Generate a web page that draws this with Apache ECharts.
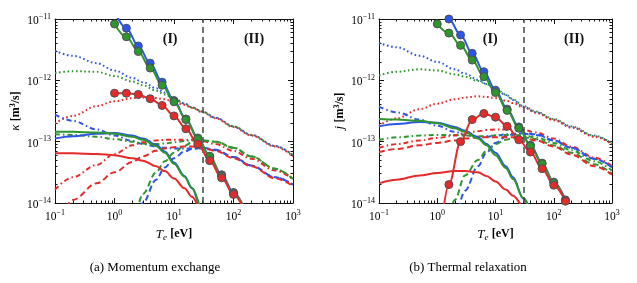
<!DOCTYPE html>
<html><head><meta charset="utf-8">
<script src="https://cdn.jsdelivr.net/npm/echarts@6/dist/echarts.min.js"></script>
<style>html,body{margin:0;padding:0;background:#fff}#c{width:637px;height:283px}</style>
</head><body><div id="c"></div>
<script>
// Temperature grid (eV) for the component curves
const T = [0.1,0.2,0.5,1,2,3,5,7,10,15,20,30,50,100,200,500,1000];
// Temperatures of the marked (total) curves
const Tm = [1,1.585,2.512,3.981,6.31,10,15.85,25.12,39.81,63.1,100,158.5];

// (a) Momentum exchange: log10(kappa [m^3/s])
const kBlueDot    = [-11.52,-11.60,-11.72,-11.84,-11.96,-12.03,-12.13,-12.20,-12.29,-12.38,-12.44,-12.51,-12.61,-12.75,-12.89,-13.07,-13.22];
const kGreenDot   = [-11.88,-11.85,-11.86,-11.93,-12.02,-12.08,-12.17,-12.23,-12.30,-12.38,-12.44,-12.51,-12.61,-12.75,-12.89,-13.07,-13.22];
const kRedDot     = [-12.70,-12.58,-12.42,-12.34,-12.29,-12.28,-12.29,-12.31,-12.35,-12.40,-12.45,-12.52,-12.62,-12.76,-12.90,-13.08,-13.24];
const kBlueSolid  = [-12.95,-12.91,-12.87,-12.86,-12.90,-12.95,-13.05,-13.16,-13.34,-13.56,-13.76,-14.15,-14.80,null,null,null,null];
const kGreenSolid = [-12.84,-12.84,-12.85,-12.87,-12.92,-12.97,-13.07,-13.18,-13.36,-13.57,-13.75,-14.10,-14.70,null,null,null,null];
const kRedSolid   = [-13.19,-13.19,-13.20,-13.22,-13.27,-13.31,-13.40,-13.48,-13.60,-13.76,-13.90,-14.15,-14.60,null,null,null,null];
const kBlueDash   = [null,null,null,null,-15.00,-14.00,-13.62,-13.42,-13.27,-13.16,-13.12,-13.10,-13.13,-13.25,-13.39,-13.58,-13.70];
const kGreenDash  = [null,null,null,null,-14.60,-13.85,-13.50,-13.32,-13.18,-13.07,-13.01,-12.98,-13.00,-13.10,-13.24,-13.44,-13.61];
const kRedDash    = [-14.50,-13.95,-13.68,-13.50,-13.33,-13.24,-13.15,-13.11,-13.09,-13.08,-13.08,-13.10,-13.15,-13.27,-13.40,-13.60,-13.72];
const kBlueDD     = [-12.56,-12.66,-12.80,-12.90,-12.99,-13.04,-13.08,-13.10,-13.11,-13.11,-13.11,-13.11,-13.14,-13.25,-13.39,-13.58,-13.70];
const kGreenDD    = [-12.88,-12.89,-12.92,-12.96,-13.00,-13.03,-13.04,-13.03,-13.01,-12.99,-12.98,-12.98,-13.00,-13.10,-13.24,-13.44,-13.61];
const kRedDD      = [-13.78,-13.58,-13.38,-13.20,-13.06,-13.01,-12.98,-12.97,-12.97,-12.97,-12.97,-12.99,-13.04,-13.15,-13.28,-13.47,-13.61];
const kBlueTot    = [-10.88,-11.15,-11.44,-11.72,-12.03,-12.33,-12.63,-12.94,-13.24,-13.54,-13.83,-14.13];
const kGreenTot   = [-11.08,-11.29,-11.53,-11.80,-12.08,-12.35,-12.64,-12.95,-13.24,-13.56,-13.84,-14.12];
const kRedTot     = [-12.21,-12.21,-12.23,-12.30,-12.41,-12.58,-12.79,-13.04,-13.31,-13.59,-13.86,-14.15];

// (b) Thermal relaxation: log10(j [m^3/s])
const jBlueDot    = [-11.39,-11.46,-11.60,-11.70,-11.82,-11.89,-11.99,-12.06,-12.14,-12.24,-12.32,-12.43,-12.52,-12.64,-12.76,-12.91,-13.03];
const jGreenDot   = [-11.92,-11.86,-11.82,-11.84,-11.90,-11.94,-12.01,-12.06,-12.13,-12.23,-12.31,-12.42,-12.51,-12.63,-12.75,-12.90,-13.03];
const jRedDot     = [-12.74,-12.62,-12.47,-12.38,-12.31,-12.28,-12.26,-12.27,-12.29,-12.33,-12.37,-12.44,-12.53,-12.65,-12.77,-12.92,-13.04];
const jBlueSolid  = [-12.75,-12.71,-12.68,-12.69,-12.76,-12.82,-12.93,-13.04,-13.18,-13.40,-13.58,-13.93,-14.50,null,null,null,null];
const jGreenSolid = [-12.63,-12.64,-12.66,-12.70,-12.78,-12.84,-12.95,-13.06,-13.22,-13.43,-13.61,-13.92,-14.45,null,null,null,null];
const jRedSolid   = [-13.68,-13.62,-13.55,-13.51,-13.48,-13.48,-13.50,-13.56,-13.65,-13.78,-13.88,-14.05,-14.40,null,null,null,null];
const jBlueDash   = [null,null,null,null,-14.40,-13.80,-13.40,-13.18,-13.02,-12.92,-12.88,-12.86,-12.88,-12.98,-13.10,-13.28,-13.42];
const jGreenDash  = [null,null,null,-16.00,-13.95,-13.55,-13.30,-13.15,-13.04,-12.97,-12.94,-12.93,-12.96,-13.06,-13.18,-13.37,-13.52];
const jRedDash    = [-13.17,-13.12,-13.06,-13.02,-12.98,-12.95,-12.93,-12.93,-12.93,-12.93,-12.93,-12.94,-12.98,-13.08,-13.21,-13.40,-13.54];
const jBlueDD     = [-12.43,-12.52,-12.64,-12.74,-12.84,-12.89,-12.92,-12.92,-12.90,-12.88,-12.87,-12.87,-12.89,-12.98,-13.10,-13.28,-13.41];
const jGreenDD    = [-12.97,-12.93,-12.90,-12.89,-12.89,-12.90,-12.91,-12.91,-12.90,-12.89,-12.89,-12.90,-12.93,-13.02,-13.14,-13.32,-13.47];
const jRedDD      = [-13.10,-13.04,-12.98,-12.94,-12.90,-12.86,-12.83,-12.81,-12.80,-12.80,-12.80,-12.81,-12.85,-12.95,-13.08,-13.26,-13.40];
const jBlueTot    = [-10.72,-11.00,-11.26,-11.56,-11.86,-12.16,-12.47,-12.76,-13.06,-13.35,-13.66,-13.95];
const jGreenTot   = [-11.08,-11.23,-11.43,-11.67,-11.94,-12.20,-12.49,-12.78,-13.07,-13.36,-13.67,-13.96];
const jRedTot     = [-15.00,-13.70,-13.00,-12.64,-12.54,-12.60,-12.75,-12.97,-13.17,-13.44,-13.71,-13.97];

// regime boundary and region labels
const boundaryT = 30;
const regionLabels = ['(I)', '(II)'];
const regionT_a = [8.6, 221];
const regionT_b = [8.1, 224];
const regionY = 4.7e-12;

// tick values
const minorX = [0.2,0.3,0.4,0.5,0.6,0.7,0.8,0.9,2,3,4,5,6,7,8,9,20,30,40,50,60,70,80,90,200,300,400,500,600,700,800,900];
const minorY = [2e-14,3e-14,4e-14,5e-14,6e-14,7e-14,8e-14,9e-14,2e-13,3e-13,4e-13,5e-13,6e-13,7e-13,8e-13,9e-13,2e-12,3e-12,4e-12,5e-12,6e-12,7e-12,8e-12,9e-12];

const captions = ['(a) Momentum exchange', '(b) Thermal relaxation'];

const SERIF = '"Liberation Serif","DejaVu Serif",serif';
const BLUE = '#2d55e6', GREEN = '#2e962e', RED = '#e62a2a';
const DOT = [1.6, 2.6], DASH = [6, 3.5], DD = [5, 3, 1.5, 3];

function fmt(v) {
  const e = Math.round(Math.log10(v));
  return '{m|10}{e|' + (e < 0 ? '\u2212' + (-e) : String(e)) + '}';
}
const RICH = {
  m: {fontSize: 11.5, fontFamily: SERIF, color: '#000', padding: [4, 0, 0, 0]},
  e: {fontSize: 8, fontFamily: SERIF, color: '#000', padding: [0, 0, 5, 0]}
};
const NAMERICH = {
  i: {fontSize: 13, fontFamily: SERIF, fontStyle: 'italic', color: '#000'},
  s: {fontSize: 9, fontFamily: SERIF, fontStyle: 'italic', color: '#000', padding: [6, 0, 0, 0]},
  b: {fontSize: 12, fontFamily: SERIF, fontWeight: 'bold', color: '#000'},
  p: {fontSize: 8, fontFamily: SERIF, fontWeight: 'bold', color: '#000', padding: [0, 0, 5, 0]}
};

function xAxes(g) {
  const base = {gridIndex: g, type: 'log', logBase: 10, min: 0.1, max: 1000, splitLine: {show: false},
    axisLine: {show: true, lineStyle: {color: '#111', width: 1}}};
  const tk = (len, cv) => ({show: true, inside: true, length: len, lineStyle: {color: '#111', width: 1}, customValues: cv});
  return [
    Object.assign({}, base, {position: 'bottom', axisTick: tk(5), axisLabel: {formatter: fmt, rich: RICH, margin: 4},
      name: '{i|T}{s|e} {b|[eV]}', nameLocation: 'middle', nameGap: 18, nameTextStyle: {rich: NAMERICH}}),
    Object.assign({}, base, {position: 'bottom', axisLine: {show: false}, axisTick: tk(2.5, minorX), axisLabel: {show: false}}),
    Object.assign({}, base, {position: 'top', axisTick: tk(5), axisLabel: {show: false}}),
    Object.assign({}, base, {position: 'top', axisLine: {show: false}, axisTick: tk(2.5, minorX), axisLabel: {show: false}})
  ];
}
function yAxes(g, sym) {
  const base = {gridIndex: g, type: 'log', logBase: 10, min: 1e-14, max: 1e-11, splitLine: {show: false},
    axisLine: {show: true, lineStyle: {color: '#111', width: 1}}};
  const tk = (len, cv) => ({show: true, inside: true, length: len, lineStyle: {color: '#111', width: 1}, customValues: cv});
  return [
    Object.assign({}, base, {position: 'left', axisTick: tk(5), axisLabel: {formatter: fmt, rich: RICH, margin: 4},
      name: '{i|' + sym + '} {b|[m}{p|3}{b|/s]}', nameLocation: 'middle', nameGap: 33, nameRotate: 90, nameTextStyle: {rich: NAMERICH}}),
    Object.assign({}, base, {position: 'left', axisLine: {show: false}, axisTick: tk(2.5, minorY), axisLabel: {show: false}}),
    Object.assign({}, base, {position: 'right', axisTick: tk(5), axisLabel: {show: false}}),
    Object.assign({}, base, {position: 'right', axisLine: {show: false}, axisTick: tk(2.5, minorY), axisLabel: {show: false}})
  ];
}

function curve(xs, logs, color, dash, ai, z) {
  const data = [];
  xs.forEach((t, i) => { if (logs[i] !== null) data.push([t, Math.pow(10, logs[i])]); });
  return {type: 'line', xAxisIndex: ai, yAxisIndex: ai, data: data, showSymbol: false, smooth: 0.35,
    smoothMonotone: 'x', clip: true, silent: true, z: z || 2,
    lineStyle: {color: color, width: 2, type: dash}};
}
function total(logs, color, ai) {
  const s = curve(Tm, logs, color, 'solid', ai, 6);
  s.showSymbol = true; s.symbol = 'circle'; s.symbolSize = 8;
  s.itemStyle = {color: color, borderColor: '#505050', borderWidth: 1};
  return s;
}
function panel(ai, set, labT) {
  const list = [
    curve(T, set.bDot, BLUE, DOT, ai), curve(T, set.gDot, GREEN, DOT, ai), curve(T, set.rDot, RED, DOT, ai),
    curve(T, set.bDD, BLUE, DD, ai, 3), curve(T, set.gDD, GREEN, DD, ai, 3), curve(T, set.rDD, RED, DD, ai, 3),
    curve(T, set.bDash, BLUE, DASH, ai, 3), curve(T, set.gDash, GREEN, DASH, ai, 3), curve(T, set.rDash, RED, DASH, ai, 3),
    curve(T, set.bSol, BLUE, 'solid', ai, 4), curve(T, set.gSol, GREEN, 'solid', ai, 4), curve(T, set.rSol, RED, 'solid', ai, 4),
    total(set.bTot, BLUE, ai), total(set.gTot, GREEN, ai), total(set.rTot, RED, ai)
  ];
  list[0].markLine = {silent: true, symbol: ['none', 'none'], label: {show: false},
    lineStyle: {color: '#444', type: [6, 4], width: 1.5}, data: [{xAxis: boundaryT}], animation: false};
  list[0].markPoint = {silent: true, symbol: 'circle', symbolSize: 1, itemStyle: {color: 'rgba(0,0,0,0)'},
    label: {show: true, position: 'inside', formatter: '{b}', fontSize: 14, fontWeight: 'bold', fontFamily: SERIF, color: '#111'},
    data: regionLabels.map((n, i) => ({name: n, coord: [labT[i], regionY]})), animation: false};
  return list;
}

const chart = echarts.init(document.getElementById('c'), null, {renderer: 'canvas'});
const series = [].concat(
  panel(0, {bDot: kBlueDot, gDot: kGreenDot, rDot: kRedDot, bSol: kBlueSolid, gSol: kGreenSolid, rSol: kRedSolid,
    bDash: kBlueDash, gDash: kGreenDash, rDash: kRedDash, bDD: kBlueDD, gDD: kGreenDD, rDD: kRedDD,
    bTot: kBlueTot, gTot: kGreenTot, rTot: kRedTot}, regionT_a),
  panel(4, {bDot: jBlueDot, gDot: jGreenDot, rDot: jRedDot, bSol: jBlueSolid, gSol: jGreenSolid, rSol: jRedSolid,
    bDash: jBlueDash, gDash: jGreenDash, rDash: jRedDash, bDD: jBlueDD, gDD: jGreenDD, rDD: jRedDD,
    bTot: jBlueTot, gTot: jGreenTot, rTot: jRedTot}, regionT_b)
);

chart.setOption({
  animation: false,
  backgroundColor: '#fff',
  grid: [
    {left: 55, top: 19, width: 238, height: 184},
    {left: 379, top: 19, width: 233, height: 184}
  ],
  xAxis: xAxes(0).concat(xAxes(1)),
  yAxis: yAxes(0, '\u03BA').concat(yAxes(1, 'j')),
  series: series,
  graphic: [
    {type: 'text', x: 155, y: 268, style: {text: captions[0], textAlign: 'center', textVerticalAlign: 'middle', fontSize: 13, fontFamily: SERIF, fill: '#000'}},
    {type: 'text', x: 468, y: 268, style: {text: captions[1], textAlign: 'center', textVerticalAlign: 'middle', fontSize: 13, fontFamily: SERIF, fill: '#000'}}
  ]
});
</script></body></html>
